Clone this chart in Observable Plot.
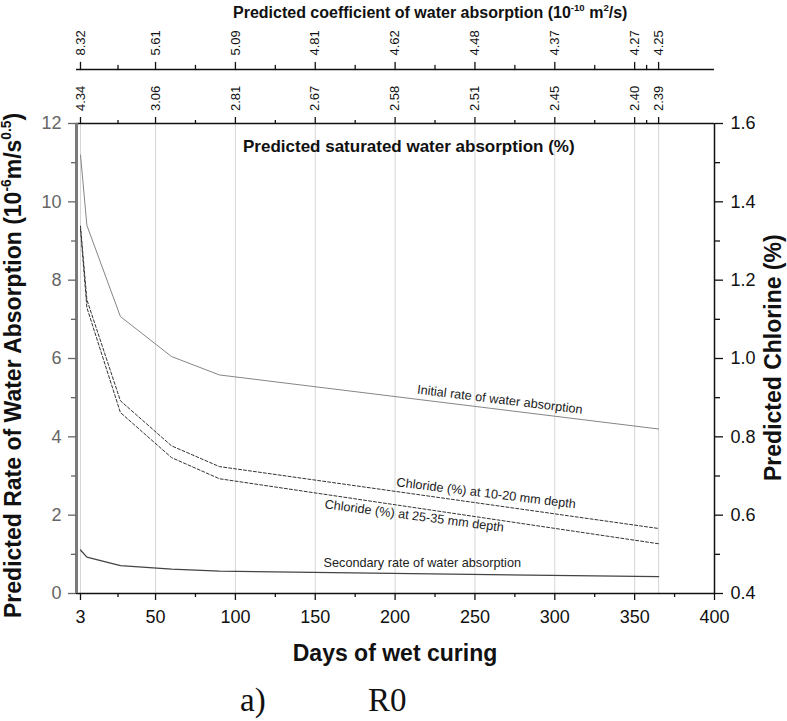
<!DOCTYPE html>
<html><head><meta charset="utf-8">
<script src="https://cdn.jsdelivr.net/npm/d3@7"></script>
<script src="https://cdn.jsdelivr.net/npm/@observablehq/plot@0.6"></script>
<style>
body{margin:0;background:#fff;}
#wrap{position:relative;width:787px;height:721px;font-family:"Liberation Sans",Arial,Helvetica,sans-serif;color:#111;}
#wrap svg{position:absolute;left:0;top:0;}
.t{position:absolute;white-space:nowrap;line-height:1;font-weight:bold;}
.sup{font-size:0.6em;position:relative;top:-0.75em;}
.cap{position:absolute;white-space:nowrap;line-height:1;font-family:"Liberation Serif","Times New Roman",serif;font-size:33px;color:#111;}
</style></head><body><div id="wrap"></div>
<script>
// ---- data ----
const days = [3, 7, 28, 60, 90, 365];
const initialRate = [11.2, 9.4, 7.07, 6.05, 5.58, 4.2];
const secondaryRate = [1.11, 0.93, 0.71, 0.62, 0.57, 0.43];
const chloride1020 = [1.338, 1.15, 0.892, 0.777, 0.724, 0.566];
const chloride2535 = [1.33, 1.13, 0.862, 0.747, 0.693, 0.527];

const topTicks = [3, 50, 100, 150, 200, 250, 300, 350, 365];
const coefLabels = ["8.32", "5.61", "5.09", "4.81", "4.62", "4.48", "4.37", "4.27", "4.25"];
const satLabels = ["4.34", "3.06", "2.81", "2.67", "2.58", "2.51", "2.45", "2.40", "2.39"];
const topMinor = [26.5, 75, 125, 175, 225, 275, 325, 357.5];
const bottomTicks = [3, 50, 100, 150, 200, 250, 300, 350, 400];
const bottomMinor = [26.5, 75, 125, 175, 225, 275, 325, 375];
const leftTicks = [0, 2, 4, 6, 8, 10, 12];
const leftMinor = [1, 3, 5, 7, 9, 11];
const rightTicks = [0.4, 0.6, 0.8, 1.0, 1.2, 1.4, 1.6];
const rightMinor = [0.5, 0.7, 0.9, 1.1, 1.3, 1.5];

const lineLabels = [
  {text: "Initial rate of water absorption", day: 265.6, value: 4.95, angle: 7},
  {text: "Chloride (%) at 10-20 mm depth", day: 257, value: 2.56, angle: 7},
  {text: "Chloride (%) at 25-35 mm depth", day: 212, value: 1.98, angle: 7.5},
  {text: "Secondary rate of water absorption", day: 217, value: 0.77, angle: 0}
];

const xDomain = [0.5, 400];
const yDomain = [0, 12];
// right axis (chloride %) maps linearly onto the left axis
const rightDomain = [0.4, 1.6];
const toLeft = c => (c - rightDomain[0]) / (rightDomain[1] - rightDomain[0]) * (yDomain[1] - yDomain[0]);
const fromLeft = v => rightDomain[0] + v / (yDomain[1] - yDomain[0]) * (rightDomain[1] - rightDomain[0]);

const series = (vals) => days.map((d, i) => ({day: d, v: vals[i]}));
const tickShape = {draw(ctx, l) { ctx.moveTo(0, 0); ctx.lineTo(0, -l); }};
const upperOffset = -54;

const chart = Plot.plot({
  width: 787, height: 680,
  marginTop: 123, marginBottom: 87, marginLeft: 76, marginRight: 73,
  x: {domain: xDomain, axis: null, label: null},
  y: {domain: yDomain, axis: null, label: null},
  style: {fontFamily: "Liberation Sans, Arial, Helvetica, sans-serif", background: "white", color: "#111"},
  marks: [
    Plot.ruleX(topTicks, {stroke: "#d6d6d6", strokeWidth: 1}),
    Plot.line(series(initialRate), {x: "day", y: "v", stroke: "#858585", strokeWidth: 1}),
    Plot.line(series(secondaryRate), {x: "day", y: "v", stroke: "#444", strokeWidth: 1.3}),
    Plot.line(series(chloride1020), {x: "day", y: d => toLeft(d.v), stroke: "#333", strokeWidth: 1, strokeDasharray: "3,2"}),
    Plot.line(series(chloride2535), {x: "day", y: d => toLeft(d.v), stroke: "#333", strokeWidth: 1, strokeDasharray: "3,2"}),
    Plot.text(lineLabels, {x: "day", y: "value", text: "text", rotate: "angle", fontSize: 12.7, fill: "#222"}),
    // frame
    Plot.ruleY([yDomain[0]], {stroke: "#111", strokeWidth: 1.5}),
    Plot.ruleY([yDomain[1]], {stroke: "#111", strokeWidth: 1.5}),
    Plot.ruleX([xDomain[1]], {stroke: "#111", strokeWidth: 1.5}),
    Plot.ruleX([xDomain[0]], {stroke: "#7a7a7a", strokeWidth: 3}),
    // bottom axis
    Plot.axisX(bottomTicks, {anchor: "bottom", label: null, tickSize: 7, tickPadding: 10, fontSize: 18, strokeWidth: 1.3, tickFormat: d => String(d)}),
    Plot.axisX(bottomMinor, {anchor: "bottom", label: null, tickSize: 4, strokeWidth: 1.3, tickFormat: () => ""}),
    // left axis
    Plot.axisY(leftTicks, {anchor: "left", label: null, tickSize: 8, tickPadding: 7, fontSize: 18, color: "#666", strokeWidth: 1.3, tickFormat: d => String(d)}),
    Plot.axisY(leftMinor, {anchor: "left", label: null, tickSize: 5, color: "#666", strokeWidth: 1.3, tickFormat: () => ""}),
    // right axis
    Plot.axisY(rightTicks.map(toLeft), {anchor: "right", label: null, tickSize: 8, tickPadding: 8, fontSize: 18, strokeWidth: 1.3, tickFormat: d => fromLeft(d).toFixed(1)}),
    Plot.axisY(rightMinor.map(toLeft), {anchor: "right", label: null, tickSize: 5, strokeWidth: 1.3, tickFormat: () => ""}),
    // lower top axis (saturated water absorption)
    Plot.axisX(topTicks, {anchor: "top", label: null, tickSize: 7, strokeWidth: 1.3, tickFormat: () => ""}),
    Plot.axisX(topMinor, {anchor: "top", label: null, tickSize: 4, strokeWidth: 1.3, tickFormat: () => ""}),
    Plot.text(topTicks, {x: d => d, text: (d, i) => satLabels[i], frameAnchor: "top", rotate: -90, textAnchor: "start", lineAnchor: "middle", dy: -12.5, fontSize: 13, fill: "#111"}),
    // upper top axis (coefficient of water absorption)
    Plot.ruleY([yDomain[1]], {dy: upperOffset, stroke: "#111", strokeWidth: 1.5}),
    Plot.vector(topTicks, {x: d => d, frameAnchor: "top", dy: upperOffset, length: 7, rotate: 0, anchor: "start", shape: tickShape, stroke: "#111", fill: "none", strokeWidth: 1.3}),
    Plot.vector(topMinor, {x: d => d, frameAnchor: "top", dy: upperOffset, length: 4, rotate: 0, anchor: "start", shape: tickShape, stroke: "#111", fill: "none", strokeWidth: 1.3}),
    Plot.text(topTicks, {x: d => d, text: (d, i) => coefLabels[i], frameAnchor: "top", rotate: -90, textAnchor: "start", lineAnchor: "middle", dy: upperOffset - 14, fontSize: 13, fill: "#111"})
  ]
});

const wrap = document.getElementById("wrap");
wrap.appendChild(chart);

function addText(html, css, cls = "t") {
  const d = document.createElement("div");
  d.className = cls;
  d.innerHTML = html;
  Object.assign(d.style, css);
  wrap.appendChild(d);
  return d;
}
addText('Predicted coefficient of water absorption (10<span class="sup">-10</span> m<span class="sup">2</span>/s)',
  {left: "233px", top: "5px", fontSize: "16px"});
addText('Predicted saturated water absorption (%)', {left: "243px", top: "138px", fontSize: "17px"});
addText('Predicted Rate of Water Absorption (10<span class="sup">-6</span>m/s<span class="sup">0.5</span>)',
  {left: "2px", top: "618px", fontSize: "23px", transform: "rotate(-90deg)", transformOrigin: "0 0"});
addText('Predicted Chlorine (%)',
  {left: "761.5px", top: "481px", fontSize: "23px", transform: "rotate(-90deg)", transformOrigin: "0 0"});
addText('Days of wet curing', {left: "76px", width: "638px", textAlign: "center", top: "641.5px", fontSize: "23px"});
addText('a)', {left: "240px", top: "684px"}, "cap");
addText('R0', {left: "368px", top: "684px"}, "cap");
</script></body></html>
